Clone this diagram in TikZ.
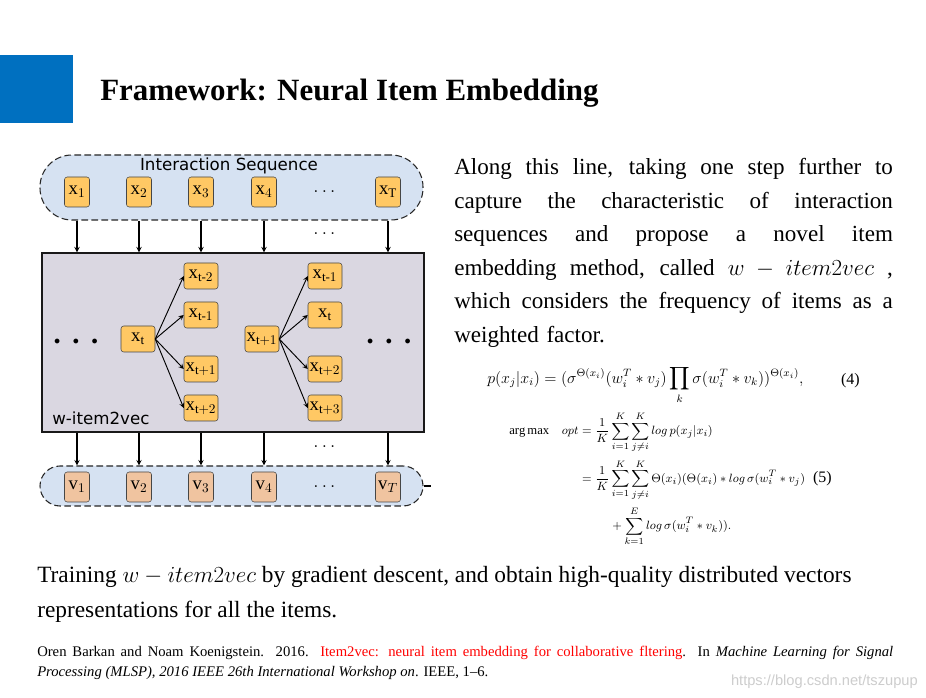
\documentclass[tikz,border=0pt]{standalone}
\usepackage{amsmath}
\usepackage{fontspec}
\setmainfont{Liberation Serif}
\newfontfamily\diagfont{DejaVu Sans}
\newfontfamily\markfont{Liberation Sans}
\usetikzlibrary{positioning}
\definecolor{slideBlue}{RGB}{0,112,192}
\definecolor{seqBlue}{RGB}{214,226,242}
\definecolor{embGray}{RGB}{218,215,225}
\definecolor{itemOrange}{RGB}{255,200,100}
\definecolor{vecSalmon}{RGB}{240,196,160}
\definecolor{edgeGray}{RGB}{70,70,70}
\definecolor{markGray}{RGB}{205,205,205}
\newcommand{\introline}[1]{{\spaceskip=0pt\xspaceskip=0pt\makebox[329pt][s]{#1}}}
\tikzset{
  every picture/.style={>=stealth}}

\begin{document}
\begin{tikzpicture}[x=0.75pt, y=-0.75pt,
    seqBox/.style={
      draw=black!85, dash pattern=on 5pt off 2.5pt,
      fill=seqBlue, line width=0.8pt},
    itemBox/.style={
      draw=edgeGray, fill=itemOrange, rounded corners=2pt,
      minimum width=18.75pt, minimum height=22.5pt, inner sep=0pt,
      font=\fontsize{14}{16}\selectfont},
    vecBox/.style={itemBox, fill=vecSalmon},
    ctxBox/.style={itemBox, minimum width=25.5pt, minimum height=19.5pt},
    link/.style={->, line width=0.8pt},
    fan/.style={->, line width=0.7pt},
    labelText/.style={font=\diagfont\fontsize{12.5}{14}\selectfont, inner sep=0pt},
    seqDots/.style={font=\fontsize{14}{16}\selectfont}]

    \useasboundingbox[fill=white] (0,0) rectangle (926,698);

    % slide heading
    \fill[slideBlue] (0,55) rectangle (73,123);
    \node[anchor=base west, inner sep=0pt,
          font=\fontsize{23.2}{28}\selectfont\bfseries] (title) at (100,101)
    {Framework: Neural Item Embedding};

    % interaction sequence
    \node[seqBox, rounded corners=24pt, minimum width=287.25pt,
          minimum height=48.75pt] (seq) at (231.5,187.5) {};
    \node[labelText, anchor=base] (seqLabel) at (229,171) {Interaction Sequence};
    \node[itemBox] (x1) at (77,192) {$\mathrm{x}_{1}$};
    \node[itemBox] (x2) at (139,192) {$\mathrm{x}_{2}$};
    \node[itemBox] (x3) at (201,192) {$\mathrm{x}_{3}$};
    \node[itemBox] (x4) at (264,192) {$\mathrm{x}_{4}$};
    \node[seqDots] (xDots) at (326,192) {$\dots$};
    \node[itemBox] (xT) at (388,192) {$\mathrm{x}_{\mathrm{T}}$};

    % w-item2vec
    \node[draw=black!90, fill=embGray, line width=1pt, minimum width=286.5pt,
          minimum height=134.25pt] (w2v) at (233,342.5) {};
    \node[labelText, anchor=base west] (w2vLabel) at (52,425) {w-item2vec};
    \node[font=\fontsize{9}{9}\selectfont] (leftDots) at (76,342)
    {$\bullet$\hspace{9.5pt}$\bullet$\hspace{9.5pt}$\bullet$};
    \node[font=\fontsize{9}{9}\selectfont] (rightDots) at (389,342)
    {$\bullet$\hspace{9.5pt}$\bullet$\hspace{9.5pt}$\bullet$};

    \node[ctxBox] (xt) at (138,339) {$\mathrm{x}_{\mathrm{t}}$};
    \node[ctxBox] (xtm2) at (201,276) {$\mathrm{x}_{\mathrm{t}\text{-}2}$};
    \node[ctxBox] (xtm1) at (201,315) {$\mathrm{x}_{\mathrm{t}\text{-}1}$};
    \node[ctxBox] (xtp1) at (201,369) {$\mathrm{x}_{\mathrm{t}+1}$};
    \node[ctxBox] (xtp2) at (201,408) {$\mathrm{x}_{\mathrm{t}+2}$};

    \node[ctxBox] (xs) at (262,339) {$\mathrm{x}_{\mathrm{t}+1}$};
    \node[ctxBox] (xsm1) at (325,276) {$\mathrm{x}_{\mathrm{t}\text{-}1}$};
    \node[ctxBox] (xsm0) at (325,315) {$\mathrm{x}_{\mathrm{t}}$};
    \node[ctxBox] (xsp2) at (325,369) {$\mathrm{x}_{\mathrm{t}+2}$};
    \node[ctxBox] (xsp3) at (325,408) {$\mathrm{x}_{\mathrm{t}+3}$};

    \draw[fan] (xt.east) -- (xtm2.west);
    \draw[fan] (xt.east) -- (xtm1.west);
    \draw[fan] (xt.east) -- (xtp1.west);
    \draw[fan] (xt.east) -- (xtp2.west);
    \draw[fan] (xs.east) -- (xsm1.west);
    \draw[fan] (xs.east) -- (xsm0.west);
    \draw[fan] (xs.east) -- (xsp2.west);
    \draw[fan] (xs.east) -- (xsp3.west);

    % output vectors
    \node[seqBox, rounded corners=15pt, minimum width=287.25pt,
          minimum height=30pt] (vseq) at (231.5,486) {};
    \draw[line width=0.8pt] (vseq.east) -- ++(7,0);
    \node[vecBox] (v1) at (77,487) {$\mathrm{v}_{1}$};
    \node[vecBox] (v2) at (139,487) {$\mathrm{v}_{2}$};
    \node[vecBox] (v3) at (201,487) {$\mathrm{v}_{3}$};
    \node[vecBox] (v4) at (264,487) {$\mathrm{v}_{4}$};
    \node[seqDots] (vDots) at (326,487) {$\dots$};
    \node[vecBox] (vT) at (388,487) {$\mathrm{v}_{T}$};

    % sequence to model to vectors
    \draw[link] (x1 |- seq.south) -- (x1 |- w2v.north);
    \draw[link] (x2 |- seq.south) -- (x2 |- w2v.north);
    \draw[link] (x3 |- seq.south) -- (x3 |- w2v.north);
    \draw[link] (x4 |- seq.south) -- (x4 |- w2v.north);
    \draw[link] (xT |- seq.south) -- (xT |- w2v.north);
    \node[seqDots] (inDots) at (326,234) {$\dots$};
    \draw[link] (v1 |- w2v.south) -- (v1 |- vseq.north);
    \draw[link] (v2 |- w2v.south) -- (v2 |- vseq.north);
    \draw[link] (v3 |- w2v.south) -- (v3 |- vseq.north);
    \draw[link] (v4 |- w2v.south) -- (v4 |- vseq.north);
    \draw[link] (vT |- w2v.south) -- (vT |- vseq.north);
    \node[seqDots] (outDots) at (326,447) {$\dots$};

    % text on the right
    \node[anchor=north west, inner sep=0pt, text width=329pt, align=left,
          font=\fontsize{17.3}{25.2}\selectfont] (intro) at (454,158)
    {\introline{Along this line, taking one step further to}\\
     \introline{capture the characteristic of interaction}\\
     \introline{sequences and propose a novel item}\\
     \introline{embedding method, called $w-item2vec$ ,}\\
     \introline{which considers the frequency of items as a}\\
     weighted factor.};

    % formulas
    \node[anchor=west, inner sep=0pt, font=\fontsize{12.1}{14}\selectfont] (eqFour)
    at (487,385)
    {$\displaystyle p(x_j|x_i) = (\sigma^{\Theta(x_i)}(w_i^T * v_j)
      \prod_{k}\sigma(w_i^T * v_k))^{\Theta(x_i)},$};
    \node[anchor=east, inner sep=0pt, font=\fontsize{12}{13}\selectfont]
    (eqFourNum) at (860,381) {(4)};
    \node[anchor=west, inner sep=0pt, font=\fontsize{9.5}{11}\selectfont] (eqFive)
    at (509,479)
    {$\begin{aligned}
      \mathrm{arg\,max}\quad opt &= \frac{1}{K}\sum_{i=1}^{K}\sum_{j\neq i}^{K}
        log\, p(x_j|x_i)\\[1pt]
      &= \frac{1}{K}\sum_{i=1}^{K}\sum_{j\neq i}^{K}
        \Theta(x_i)(\Theta(x_i) * log\,\sigma(w_i^T * v_j)\\[1pt]
      &\hphantom{= \frac{1}{K}}\;+\sum_{k=1}^{E} log\,\sigma(w_i^T * v_k)).
    \end{aligned}$};
    \node[anchor=east, inner sep=0pt, font=\fontsize{12}{13}\selectfont]
    (eqFiveNum) at (832,479) {(5)};

    % summary and reference
    \node[anchor=base west, inner sep=0pt, align=left,
          font=\fontsize{17.5}{26.25}\selectfont] (summary) at (37,618)
    {Training $w - item2vec$ by gradient descent, and obtain high-quality distributed vectors\\
     representations for all the items.};
    \node[anchor=base west, inner sep=0pt, align=left,
          font=\fontsize{11}{15}\selectfont] (citation) at (37,677)
    {\makebox[642pt][s]{Oren Barkan and Noam Koenigstein. 2016.
      \textcolor{red}{Item2vec: neural item embedding for collaborative fltering}.
      In \textit{Machine Learning for Signal}}\\
     \textit{Processing (MLSP), 2016 IEEE 26th International Workshop on}. IEEE, 1--6.};
    \node[anchor=base east, inner sep=0pt, text=markGray,
          font=\markfont\fontsize{11}{12}\selectfont] (watermark) at (918,686)
    {https://blog.csdn.net/tszupup};
\end{tikzpicture}
\end{document}
